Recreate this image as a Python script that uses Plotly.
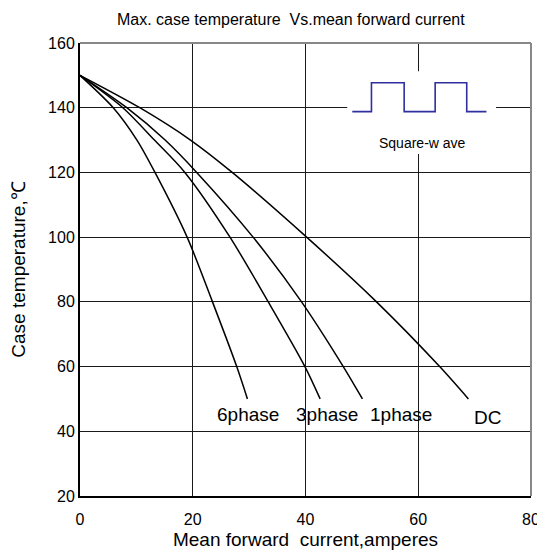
import plotly.graph_objects as go

# Case temperature levels (°C) at which each curve's current was read
temps = [150, 140, 130, 120, 100, 80, 60, 50]
# Mean forward current (A) for each curve at those temperatures
i_6phase = [0, 5.9, 10.1, 13.3, 19.0, 23.5, 27.8, 29.7]
i_3phase = [0, 7.6, 13.2, 18.6, 26.6, 33.4, 39.9, 42.6]
i_1phase = [0, 8.3, 15.1, 20.7, 30.7, 39.3, 46.7, 50.1]
i_dc = [0, 10.6, 19.6, 27.0, 40.2, 52.6, 63.8, 68.9]

series_names = ["6phase", "3phase", "1phase", "DC"]
series_vals = [i_6phase, i_3phase, i_1phase, i_dc]
label_x = [29.8, 43.8, 56.9, 72.3]
label_y = [45.3, 45.3, 45.3, 44.4]

# Square-wave inset symbol
sq_x = [48.3, 51.7, 57.5, 63.0, 68.6, 72.1]
sq_y = [138.8, 147.7, 138.8, 147.7, 138.8, 138.8]

x_ticks = [0, 20, 40, 60, 80]
y_ticks = [20, 40, 60, 80, 100, 120, 140, 160]

FONT = "Liberation Sans, Arial, sans-serif"

fig = go.Figure()
for name, vals in zip(series_names, series_vals):
    fig.add_trace(go.Scatter(x=vals, y=temps, mode="lines", name=name,
                             line=dict(color="black", width=1.5, shape="spline", smoothing=0.8),
                             showlegend=False, hoverinfo="skip"))

fig.add_trace(go.Scatter(x=sq_x, y=sq_y, mode="lines",
                         line=dict(color="#2f2f9f", width=1.6, shape="hv"),
                         showlegend=False, hoverinfo="skip"))

for name, lx, ly in zip(series_names, label_x, label_y):
    fig.add_annotation(x=lx, y=ly, text=name, showarrow=False,
                       font=dict(family=FONT, size=19, color="black"))

fig.add_annotation(x=60.8, y=129.1, text="Square-w ave", showarrow=False,
                   font=dict(family=FONT, size=14, color="black"))

# white backing behind the inset
fig.add_shape(type="rect", x0=47.4, x1=73.8, y0=125.7, y1=151.3,
              fillcolor="white", line=dict(width=0), layer="between")
# top and right frame (gray)
fig.add_shape(type="line", xref="paper", yref="paper", x0=0, x1=1, y0=1, y1=1,
              line=dict(color="#888888", width=2))
fig.add_shape(type="line", xref="paper", yref="paper", x0=1, x1=1, y0=0, y1=1,
              line=dict(color="#888888", width=2))

fig.update_layout(
    width=545, height=556,
    margin=dict(l=72, r=22, t=35, b=68),
    paper_bgcolor="white", plot_bgcolor="white",
    font=dict(family=FONT, size=16, color="black"),
    title=dict(text="Max. case temperature  Vs.mean forward current",
               x=0.519, xanchor="center", y=0.98, yanchor="middle",
               font=dict(family=FONT, size=16, color="black")),
)
fig.update_xaxes(range=[0, 80], tickvals=x_ticks, showgrid=True, gridcolor="#1a1a1a", gridwidth=1.2,
                 showline=True, linecolor="black", linewidth=2, zeroline=False,
                 ticks="", ticklen=0, automargin=False, ticklabelstandoff=8,
                 title=dict(text="Mean forward  current,amperes", font=dict(size=19), standoff=5),
                 tickfont=dict(size=16))
fig.update_yaxes(range=[20, 160], tickvals=y_ticks, showgrid=True, gridcolor="#1a1a1a", gridwidth=1.2,
                 showline=True, linecolor="black", linewidth=2, zeroline=False,
                 ticks="", ticklen=0, automargin=False,
                 title=dict(text="Case temperature,℃", font=dict(size=19), standoff=26),
                 tickfont=dict(size=16))

fig.write_html("out.html")
